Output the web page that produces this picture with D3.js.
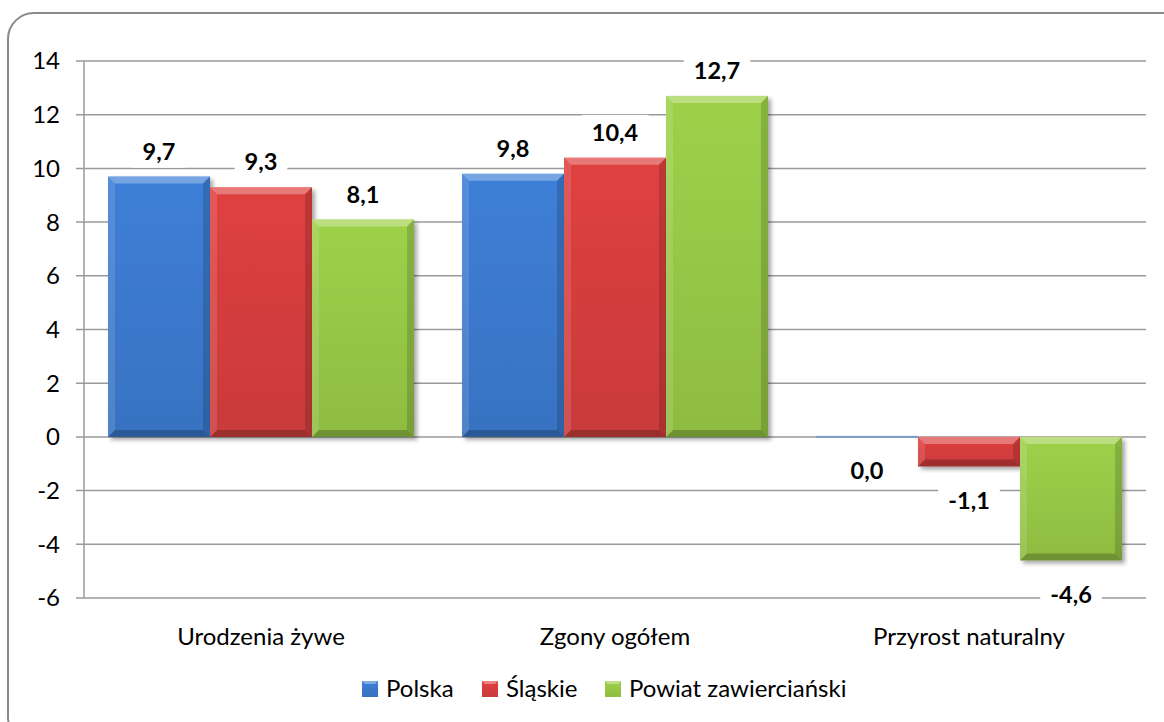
<!DOCTYPE html>
<html>
<head>
<meta charset="utf-8">
<script src="https://cdn.jsdelivr.net/npm/d3@7"></script>
<style>
  body { margin: 0; background: #fff; }
  text { font-family: Lato, "Open Sans", sans-serif; }
</style>
</head>
<body>
<div id="chart"></div>
<script>
// data
var categories = ["Urodzenia żywe", "Zgony ogółem", "Przyrost naturalny"];
var seriesNames = ["Polska", "Śląskie", "Powiat zawierciański"];
var polska = [9.7, 9.8, 0.0];
var slaskie = [9.3, 10.4, -1.1];
var powiat = [8.1, 12.7, -4.6];
var yTicks = [-6, -4, -2, 0, 2, 4, 6, 8, 10, 12, 14];

var colors = ["#3b78cc", "#d43d3d", "#96c646"];
var allSeries = [polska, slaskie, powiat];

var svgWidth = 1164;
var svgHeight = 722;
var margin = { top: 61, right: 18, bottom: 124, left: 84 };
var width = svgWidth - margin.left - margin.right;
var height = svgHeight - margin.top - margin.bottom;

var svg = d3.select("#chart")
  .append("svg")
  .attr("width", svgWidth)
  .attr("height", svgHeight);

// drop shadow for bars
var defs = svg.append("defs");
var f = defs.append("filter").attr("id", "shadow")
  .attr("x", "-10%").attr("y", "-10%").attr("width", "130%").attr("height", "130%");
f.append("feDropShadow").attr("dx", 3).attr("dy", 3).attr("stdDeviation", 2)
  .attr("flood-color", "#000").attr("flood-opacity", 0.35);

colors.forEach(function(c, i) {
  var g = defs.append("linearGradient").attr("id", "grad" + i)
    .attr("x1", 0).attr("y1", 0).attr("x2", 0).attr("y2", 1);
  g.append("stop").attr("offset", "0%").attr("stop-color", d3.color(c).brighter(0.15));
  g.append("stop").attr("offset", "100%").attr("stop-color", d3.color(c).darker(0.15));
});

// outer rounded frame
svg.append("rect")
  .attr("x", 8).attr("y", 13)
  .attr("width", 1180).attr("height", 730)
  .attr("rx", 26).attr("ry", 26)
  .attr("fill", "none")
  .attr("stroke", "#8a8a8a")
  .attr("stroke-width", 2);

var chartGroup = svg.append("g")
  .attr("transform", `translate(${margin.left}, ${margin.top})`);

var x0 = d3.scaleBand().domain(categories).range([0, width]).paddingInner(0).paddingOuter(0);
var x1 = d3.scaleBand().domain(seriesNames).range([24, x0.bandwidth() - 24]);
var yScale = d3.scaleLinear().domain([-6, 14]).range([height, 0]);

// gridlines
chartGroup.selectAll(".grid")
  .data(yTicks)
  .enter()
  .append("line")
  .attr("x1", -8)
  .attr("x2", width)
  .attr("y1", d => yScale(d))
  .attr("y2", d => yScale(d))
  .attr("stroke", "#9a9a9a")
  .attr("stroke-width", 1.5);

// y axis line
chartGroup.append("line")
  .attr("x1", 0).attr("x2", 0)
  .attr("y1", 0).attr("y2", height)
  .attr("stroke", "#9a9a9a")
  .attr("stroke-width", 1.5);

// tick labels
chartGroup.selectAll(".ytick")
  .data(yTicks)
  .enter()
  .append("text")
  .attr("x", -24)
  .attr("y", d => yScale(d))
  .attr("dy", "0.35em")
  .attr("text-anchor", "end")
  .attr("font-size", "24px")
  .attr("fill", "#000")
  .text(d => d);

// bars
var barData = [];
categories.forEach(function(cat, ci) {
  seriesNames.forEach(function(s, si) {
    barData.push({ cat: cat, series: s, si: si, value: allSeries[si][ci] });
  });
});

var bars = chartGroup.selectAll(".bar")
  .data(barData)
  .enter()
  .append("g")
  .attr("transform", d => `translate(${x0(d.cat) + x1(d.series)}, 0)`);

bars.each(function(d) {
  var g = d3.select(this);
  var w = x1.bandwidth();
  var top = yScale(Math.max(0, d.value));
  var bot = yScale(Math.min(0, d.value));
  var h = bot - top;
  if (h < 2) {
    g.append("rect")
      .attr("x", 0).attr("y", top - 1)
      .attr("width", w).attr("height", 2)
      .attr("fill", "#7a9cc8");
    return;
  }
  g.append("rect")
    .attr("x", 0).attr("y", top)
    .attr("width", w).attr("height", h)
    .attr("fill", "url(#grad" + d.si + ")")
    .attr("filter", "url(#shadow)");
  var b = Math.min(7, h / 3);
  // bevel: top light, bottom dark, sides
  g.append("path")
    .attr("d", `M0,${top} L${w},${top} L${w - b},${top + b} L${b},${top + b} Z`)
    .attr("fill", "#fff").attr("opacity", 0.3);
  g.append("path")
    .attr("d", `M0,${bot} L${w},${bot} L${w - b},${bot - b} L${b},${bot - b} Z`)
    .attr("fill", "#000").attr("opacity", 0.22);
  g.append("path")
    .attr("d", `M0,${top} L${b},${top + b} L${b},${bot - b} L0,${bot} Z`)
    .attr("fill", "#fff").attr("opacity", 0.12);
  g.append("path")
    .attr("d", `M${w},${top} L${w - b},${top + b} L${w - b},${bot - b} L${w},${bot} Z`)
    .attr("fill", "#000").attr("opacity", 0.15);
});

// value labels with white boxes
var fmt = v => v.toFixed(1).replace(".", ",");
bars.each(function(d) {
  var g = d3.select(this);
  var w = x1.bandwidth();
  var cy = d.value > 0 ? yScale(d.value) - 25 : yScale(d.value) + 34;
  var t = g.append("text")
    .attr("x", w / 2)
    .attr("y", cy)
    .attr("dy", "0.35em")
    .attr("text-anchor", "middle")
    .attr("font-size", "23.5px")
    .attr("font-weight", "bold")
    .attr("fill", "#000")
    .text(fmt(d.value));
  var bb = t.node().getBBox();
  g.insert("rect", "text")
    .attr("x", bb.x - 10).attr("y", bb.y - 3)
    .attr("width", bb.width + 20).attr("height", bb.height + 6)
    .attr("fill", "#fff");
});

// category labels
chartGroup.selectAll(".cat")
  .data(categories)
  .enter()
  .append("text")
  .attr("x", d => x0(d) + x0.bandwidth() / 2)
  .attr("y", height + 39)
  .attr("dy", "0.35em")
  .attr("text-anchor", "middle")
  .attr("font-size", "24px")
  .attr("fill", "#000")
  .text(d => d);

// legend
var legendX = [362, 482, 605];
var legend = svg.selectAll(".legend")
  .data(seriesNames)
  .enter()
  .append("g")
  .attr("transform", (d, i) => `translate(${legendX[i]}, 689)`);

legend.append("rect")
  .attr("x", 0).attr("y", -8)
  .attr("width", 16).attr("height", 16)
  .attr("fill", (d, i) => "url(#grad" + i + ")");
legend.append("path")
  .attr("d", "M0,-8 L16,-8 L13,-5 L3,-5 Z")
  .attr("fill", "#fff").attr("opacity", 0.35);

legend.append("text")
  .attr("x", 24)
  .attr("y", 0)
  .attr("dy", "0.35em")
  .attr("font-size", "24px")
  .attr("fill", "#000")
  .text(d => d);
</script>
</body>
</html>
